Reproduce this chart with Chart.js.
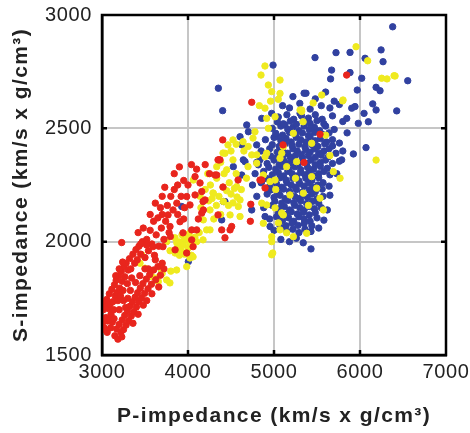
<!DOCTYPE html>
<html>
<head>
<meta charset="utf-8">
<script src="https://cdn.jsdelivr.net/npm/chart.js@4/dist/chart.umd.min.js"></script>
<style>
html,body{margin:0;padding:0;background:#fff;}
canvas{display:block;}
</style>
</head>
<body>
<canvas id="c" width="470" height="433"></canvas>
<script>
// ---- data (P-impedance, S-impedance) ----
const xTickValues = [3000, 4000, 5000, 6000, 7000];
const yTickValues = [1500, 2000, 2500, 3000];
const xTitle = 'P-impedance (km/s x g/cm³)';
const yTitle = 'S-impedance (km/s x g/cm³)';

const redPoints = [
[3005,1640],[3015,1700],[3025,1620],[3035,1725],[3045,1665],[3055,1745],[3065,1650],[3075,1705],[3085,1770],[3095,1725],
[3105,1680],[3115,1790],[3125,1735],[3135,1700],[3145,1810],[3155,1760],[3165,1830],[3175,1775],[3185,1740],[3195,1850],
[3205,1795],[3215,1760],[3225,1870],[3235,1825],[3245,1785],[3255,1890],[3265,1845],[3280,1905],[3295,1815],[3305,1875],
[3320,1925],[3335,1880],[3345,1840],[3360,1945],[3380,1905],[3395,1965],[3410,1920],[3430,1980],[3450,1945],[3470,2000],
[3150,1585],[3170,1615],[3185,1570],[3200,1635],[3220,1600],[3235,1655],[3250,1612],[3265,1675],[3280,1632],[3295,1695],
[3310,1650],[3325,1715],[3340,1672],[3355,1735],[3370,1690],[3385,1755],[3400,1712],[3415,1775],[3430,1735],[3445,1795],
[3460,1752],[3475,1815],[3495,1772],[3515,1835],[3535,1792],[3555,1855],[3575,1812],[3600,1875],[3625,1832],[3650,1890],
[3680,1852],[3700,1905],[3060,1600],[3120,1645],[3250,1740],[3390,1820],[3540,1880],[3010,1735],[3100,1620],[3330,1785],
[3040,1610],[3090,1655],[3140,1660],[3200,1700],[3230,1580],[3275,1710],[3300,1750],[3360,1640],[3420,1680],[3440,1850],
[3480,1720],[3500,1880],[3520,1740],[3580,1770],[3620,1920],[3660,1800],[3720,1880],[3160,1850],[3200,1880],[3240,1910],
[3420,2040],[3450,1990],[3480,2060],[3500,1930],[3520,2010],[3540,1960],[3560,2050],[3580,1990],[3600,2090],[3610,1940],
[3630,2030],[3650,2105],[3660,1980],[3680,2150],[3690,2060],[3700,2120],[3720,2010],[3740,2090],[3760,2160],[3768,2118],
[3780,2040],[3791,2067],[3795,2023],[3800,2200],[3826,2140],[3840,2230],[3850,1964],[3870,2170],[3880,2250],[3907,2088],
[3920,2200],[3942,2039],[3950,2270],[3960,2150],[3985,2199],[3985,1950],[4000,2250],[4023,2162],[4043,2052],[4059,1978],
[4082,2287],[4100,2320],[4140,2259],[4160,2221],[4160,2126],[4175,2177],[4200,2340],[4250,2300],[4334,2294],[4349,2361],
[4349,2118],[4392,2052],[4430,2017],[4489,2052],[4407,2241],[4582,2272],[4372,2361],[4082,2206],[4198,2184],[4179,2140],
[4508,2067],[4101,2052],[4043,2008],[4314,2294],[3229,1996],[4404,2449],[4360,2361],[4741,2615],[4896,2237],[4857,2272],
[5105,2427],[5349,2349],[5535,2474],[5845,2735],[4730,2165],[4725,2090],[4837,2272],[3519,1985],[3593,1978],[3709,1978],
[3560,2120],[3620,2170],[3700,2200],[3730,2240],[3840,2300],[3900,2330],[4040,2340],[3880,2120],[3950,2100],[4120,2100]
];

const yellowPoints = [
[3442,1905],[3500,1883],[3578,1846],[3636,1840],[3655,1824],[3700,1860],[3752,1831],[3790,1818],[3800,1870],[3868,1875],
[3462,1942],[3694,1875],[3752,2000],[3791,1960],[3849,2017],[3850,1950],[3880,1975],[3900,1999],[3920,1960],[3946,1986],
[3960,1945],[3980,2010],[4000,1970],[4020,1995],[4040,1940],[4059,1933],[4080,2020],[4101,2000],[4130,2040],[3900,1940],
[3930,2030],[4023,1928],[3985,1890],[3870,1995],[4010,2035],[3960,2015],
[4295,2213],[4411,2177],[4178,2096],[4217,2052],[4256,2140],[4489,2118],[4585,2155],[4062,2272],[4334,2280],[4566,2243],
[4857,2170],[4973,2022],[4430,2390],[4450,2317],[4605,2184],[4407,2391],[4523,2361],[4334,2331],[4380,2350],[4799,2383],
[4698,2331],[4407,2240],[4450,2225],[4500,2210],[4540,2235],[4570,2197],[4291,2215],[4523,2171],[4605,2111],[4256,2052],
[4175,2008],[4954,2265],[5012,2149],[5090,2127],[5051,2083],[5147,2039],[4240,2180],[4330,2160],[4380,2120],[4470,2160],
[4620,2230],[4680,2280],[4200,2230],[4140,2200],[4300,2100],[4650,2400],[4560,2300],[4260,2250],[4360,2200],[4480,2260],
[4230,2300],[4420,2300],[4500,2400],[4560,2430],[4700,2420],[4150,2150],[4280,2190],
[4895,2775],[4849,2735],[4934,2691],[4973,2662],[5070,2654],[5050,2628],[4895,2589],[5012,2551],[4779,2485],[4934,2500],
[4523,2449],[4465,2427],[4640,2441],[4756,2457],[4741,2383],[4896,2375],[4799,2346],[5090,2390],[5303,2581],[5338,2529],
[5070,2713],[4960,2620],[4830,2600],
[4915,2544],[5225,2478],[5322,2574],[5438,2434],[5108,2419],[4915,2390],[5070,2368],[5263,2353],[5690,2309],[5438,2287],
[5147,2331],[4876,2294],[5012,2272],[5768,2280],[5496,2236],[5341,2214],[5186,2206],[4915,2162],[5535,2192],[5108,2118],
[4876,2081],[5070,2052],[5225,2022],[5380,2037],[5574,2140],[4973,1942],[4973,2000],[4985,1950],
[5455,2612],[5555,2647],[5798,2621],[5322,2581],[5954,2860],[6089,2798],[6252,2721],[6314,2718],[6396,2732],[6408,2731],
[6187,2360],[5803,2625],[5600,2470],[5250,2280],[5400,2160],[5020,2230],[5650,2380]
];

const bluePoints = [
[6380,2948],[5477,2812],[5721,2834],[5884,2835],[6245,2846],[6268,2794],[6059,2809],[5670,2757],[5658,2718],[5884,2746],
[6020,2721],[6555,2710],[5968,2669],[6187,2681],[6233,2666],[6427,2577],[6148,2608],[6187,2581],[6047,2566],[6097,2529],
[5904,2589],[5942,2596],[5846,2544],[5980,2522],[4989,2779],[6070,2415],[5923,2387],[5787,2361],[4353,2677],[4403,2578],
[5372,2655],[4973,2566],[4857,2544],[4683,2515],[4702,2485],[4605,2463],[4625,2427],[4799,2427],[5032,2463],[5090,2419],
[4837,2361],[4663,2353],[4527,2331],[5128,2515],[5303,2566],[4643,2361],[4625,2294],[4818,2339],[4857,2265],[4430,2177],
[4392,2096],[4741,2140],[4896,2111],[4954,2067],[3927,2155],[4411,2177],[3694,1875],[4004,1912],[5430,1968],
[5220,2640],[5350,2655],[5480,2630],[5600,2660],[5700,2620],
[5100,2600],[5180,2590],[5300,2610],[5420,2585],[5550,2600],[5650,2590],[5760,2605],
[5050,2550],[5150,2560],[5230,2540],[5320,2555],[5400,2545],[5480,2560],[5560,2540],[5680,2555],[5800,2530],
[4980,2500],[5080,2510],[5160,2495],[5220,2505],[5290,2490],[5350,2510],[5410,2495],[5470,2505],[5530,2490],[5600,2510],[5700,2495],[5850,2480],
[4900,2450],[5000,2460],[5080,2445],[5140,2455],[5200,2440],[5260,2460],[5310,2450],[5370,2440],[5420,2460],[5480,2445],[5540,2455],[5610,2440],[5680,2450],[5760,2435],
[4850,2400],[4950,2410],[5040,2395],[5100,2405],[5160,2390],[5220,2410],[5270,2400],[5320,2385],[5370,2405],[5420,2395],[5470,2410],[5520,2390],[5580,2400],[5640,2410],[5720,2390],[5800,2400],
[4800,2350],[4920,2345],[5000,2360],[5060,2340],[5120,2355],[5180,2345],[5230,2360],[5280,2340],[5330,2355],[5380,2345],[5430,2360],[5480,2340],[5540,2350],[5600,2360],[5680,2345],[5760,2355],
[4780,2300],[4880,2310],[4980,2295],[5050,2305],[5110,2290],[5160,2310],[5210,2300],[5260,2290],[5310,2305],[5360,2295],[5410,2310],[5460,2290],[5520,2300],[5580,2310],[5650,2295],[5730,2300],
[4750,2250],[4850,2260],[4950,2245],[5030,2255],[5090,2240],[5150,2260],[5200,2250],[5250,2240],[5300,2255],[5350,2245],[5400,2260],[5450,2240],[5510,2250],[5570,2260],[5640,2245],
[4800,2200],[4920,2210],[5000,2195],[5070,2205],[5130,2190],[5190,2210],[5240,2200],[5290,2190],[5340,2205],[5390,2195],[5440,2210],[5500,2190],[5570,2200],[5650,2205],
[4880,2150],[4980,2160],[5060,2145],[5120,2155],[5180,2140],[5240,2160],[5300,2150],[5350,2140],[5410,2155],[5470,2145],[5550,2150],[5620,2140],
[4950,2100],[5030,2110],[5100,2095],[5170,2105],[5230,2090],[5290,2110],[5350,2100],[5420,2090],[5500,2105],[5580,2095],
[5000,2050],[5080,2060],[5150,2045],[5220,2055],[5290,2040],[5360,2055],[5430,2045],[5520,2060],
[5080,2010],[5180,2000],[5260,2015],[5340,1995],
[5040,2528],[5110,2520],[5190,2532],[5260,2518],[5340,2530],[5420,2522],[5500,2534],[5580,2520],
[5020,2478],[5100,2470],[5180,2482],[5250,2472],[5330,2480],[5400,2468],[5470,2482],[5560,2474],[5640,2480],
[4980,2428],[5060,2420],[5130,2432],[5210,2424],[5290,2430],[5360,2418],[5440,2428],[5510,2420],[5590,2432],[5680,2422],
[4960,2378],[5030,2370],[5110,2382],[5190,2372],[5250,2380],[5330,2368],[5400,2380],[5480,2372],[5550,2382],[5630,2374],
[4940,2328],[5020,2320],[5090,2332],[5170,2322],[5240,2330],[5310,2318],[5390,2328],[5460,2320],[5540,2332],[5620,2324],
[4920,2278],[5000,2270],[5070,2282],[5140,2272],[5220,2280],[5290,2268],[5370,2280],[5440,2270],[5520,2282],
[4960,2228],[5040,2220],[5110,2232],[5180,2222],[5260,2230],[5330,2218],[5410,2228],[5480,2220],[5560,2232],
[5010,2178],[5090,2170],[5160,2182],[5230,2172],[5310,2180],[5380,2168],[5450,2178],[5520,2170],
[5050,2128],[5130,2120],[5200,2132],[5270,2122],[5340,2130],[5410,2118],[5480,2128],
[5060,2078],[5140,2070],[5210,2082],[5280,2072],[5350,2080],[5440,2070]
];

const toXY = arr => arr.map(p => ({x: p[0], y: p[1]}));

// black frame with short inward tick marks, drawn last
const framePlugin = {
  id: 'frame',
  afterDraw(chart) {
    const ctx = chart.ctx;
    const xs = chart.scales.x, ys = chart.scales.y;
    const L = xs.getPixelForValue(xTickValues[0]), R = xs.getPixelForValue(xTickValues[xTickValues.length - 1]);
    const T = ys.getPixelForValue(yTickValues[yTickValues.length - 1]), B = ys.getPixelForValue(yTickValues[0]);
    ctx.save();
    ctx.strokeStyle = 'black';
    ctx.lineWidth = 2.5;
    ctx.beginPath();
    ctx.moveTo(L, T); ctx.lineTo(R, T); ctx.lineTo(R, B); ctx.lineTo(L, B); ctx.closePath();
    xTickValues.forEach(v => {
      const px = xs.getPixelForValue(v);
      ctx.moveTo(px, B); ctx.lineTo(px, B - 5);
      ctx.moveTo(px, T); ctx.lineTo(px, T + 5);
    });
    yTickValues.forEach(v => {
      const py = ys.getPixelForValue(v);
      ctx.moveTo(L, py); ctx.lineTo(L + 5, py);
      ctx.moveTo(R, py); ctx.lineTo(R - 5, py);
    });
    ctx.stroke();
    ctx.restore();
  },
  beforeDraw(chart) {
    // widen the text a little, as in the reference
    Object.values(chart.scales).forEach(s => {
      if (s._spaced) return;
      s._spaced = true;
      const dt = s.drawTitle, dl = s.drawLabels;
      s.drawTitle = function () {
        const c = this.ctx; const prev = c.letterSpacing;
        c.letterSpacing = '1.4px'; dt.apply(this, arguments); c.letterSpacing = prev || '0px';
      };
      s.drawLabels = function () {
        const c = this.ctx; const prev = c.letterSpacing;
        c.letterSpacing = '0.6px'; dl.apply(this, arguments); c.letterSpacing = prev || '0px';
      };
    });
  }
};

const tickFont = {family: '"Liberation Sans", Arial, sans-serif', size: 20};
const titleFont = {family: '"Liberation Sans", Arial, sans-serif', size: 21, weight: 'bold'};

new Chart(document.getElementById('c'), {
  type: 'scatter',
  data: {
    datasets: [
      {data: toXY(redPoints), backgroundColor: '#e8251d', borderColor: '#e8251d', pointRadius: 3.2},
      {data: toXY(yellowPoints), backgroundColor: '#efea1f', borderColor: '#efea1f', pointRadius: 3.2},
      {data: toXY(bluePoints), backgroundColor: '#3141a0', borderColor: '#3141a0', pointRadius: 3.2}
    ]
  },
  options: {
    responsive: false,
    animation: false,
    layout: {padding: {top: 15, right: 24, left: 0, bottom: 0}},
    plugins: {legend: {display: false}, tooltip: {enabled: false}},
    scales: {
      x: {
        type: 'linear', min: xTickValues[0], max: xTickValues[xTickValues.length - 1],
        afterBuildTicks: s => { s.ticks = xTickValues.map(v => ({value: v})); },
        afterFit: s => { s.height = 78; s.paddingLeft = 0; s.paddingRight = 0; },
        ticks: {callback: v => String(v), color: '#222', font: tickFont, padding: 5, maxRotation: 0},
        grid: {color: '#c6c6c6', lineWidth: 2, drawTicks: false},
        border: {display: true, color: 'black', width: 2.5},
        title: {display: true, text: xTitle, color: '#222', font: titleFont, padding: {top: 0, bottom: 4}}
      },
      y: {
        type: 'linear', min: yTickValues[0], max: yTickValues[yTickValues.length - 1],
        afterBuildTicks: s => { s.ticks = yTickValues.map(v => ({value: v})); },
        afterFit: s => { s.width = 102; s.paddingTop = 0; s.paddingBottom = 0; },
        ticks: {callback: v => String(v), color: '#222', font: tickFont, padding: 10},
        grid: {color: '#c6c6c6', lineWidth: 2, drawTicks: false},
        border: {display: true, color: 'black', width: 2.5},
        title: {display: true, text: yTitle, color: '#222', font: titleFont, padding: {top: 9, bottom: 0}}
      }
    }
  },
  plugins: [framePlugin]
});
</script>
</body>
</html>
